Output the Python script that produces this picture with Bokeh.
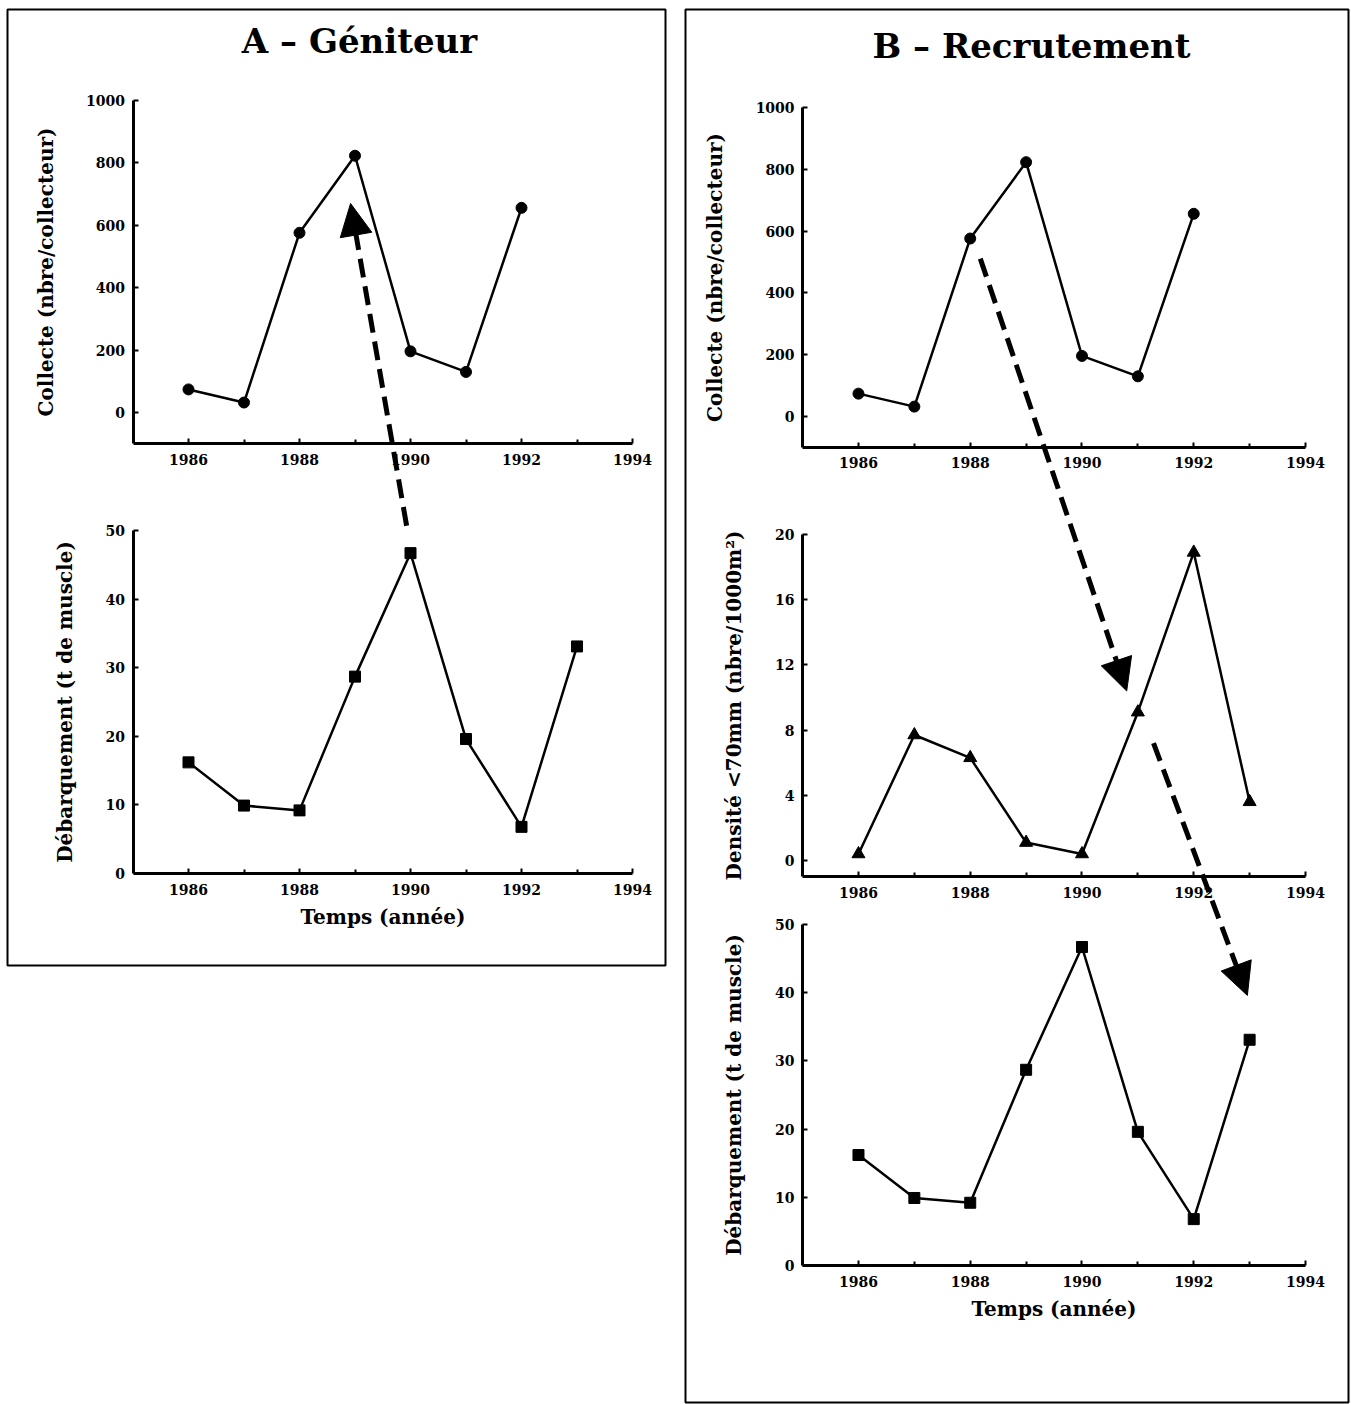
from bokeh.plotting import figure
from bokeh.models import (Range1d, LinearAxis, FixedTicker, Label, Arrow, NormalHead, Spacer)
from bokeh.layouts import row, column
from bokeh.embed import file_html
from bokeh.resources import INLINE

# ---------------- data ----------------
years_collecte = [1986, 1987, 1988, 1989, 1990, 1991, 1992]
collecte = [74, 32, 576, 823, 196, 130, 656]          # nbre/collecteur

years_debarq = [1986, 1987, 1988, 1989, 1990, 1991, 1992, 1993]
debarquement = [16.2, 9.9, 9.2, 28.7, 46.7, 19.6, 6.8, 33.1]   # t de muscle

years_densite = [1986, 1987, 1988, 1989, 1990, 1991, 1992, 1993]
densite = [0.4, 7.7, 6.3, 1.1, 0.4, 9.1, 18.9, 3.6]   # nbre/1000m2

x_ticks = [1986, 1988, 1990, 1992, 1994]
x_minor = [1987, 1989, 1991, 1993]
collecte_ticks = [0, 200, 400, 600, 800, 1000]
debarq_ticks = [0, 10, 20, 30, 40, 50]
densite_ticks = [0, 4, 8, 12, 16, 20]

title_a = "A \u2013 G\u00e9niteur"
title_b = "B \u2013 Recrutement"
label_collecte = "Collecte (nbre/collecteur)"
label_debarq = "D\u00e9barquement (t de muscle)"
label_densite = "Densit\u00e9 <70mm (nbre/1000m\u00b2)"
label_temps = "Temps (ann\u00e9e)"

# ---------------- styling ----------------
TICK_FONT = "DejaVu Serif"
LAB_FONT = "DejaVu Serif"
MB = 2  # min border


def make_panel(ox, oy, W, H):
    p = figure(width=W + 2 * MB, height=H + 2 * MB, x_axis_type=None, y_axis_type=None,
               x_range=Range1d(0, W), y_range=Range1d(H, 0),
               toolbar_location=None, output_backend="svg", min_border=MB)
    p.grid.visible = False
    p.outline_line_color = "black"
    p.outline_line_width = 2
    p.background_fill_color = "white"
    p.border_fill_color = "white"
    p._ox, p._oy, p._W, p._H = ox, oy, W, H
    return p


def add_subplot(p, name, xpix, ypix, xb, yb, yticks, ylabel, xlabel=None):
    """xpix: (page px of 1985, page px of 1994); ypix: ((v0, py0), (v1, py1))"""
    ox, oy, W, H = p._ox, p._oy, p._W, p._H
    a = 9.0 / (xpix[1] - xpix[0])
    xs = 1985 - (xpix[0] - ox) * a
    p.extra_x_ranges[name] = Range1d(xs, xs + W * a)
    (v0, py0), (v1, py1) = ypix
    k = (v1 - v0) / (py1 - py0)
    vtop = v0 + (oy - py0) * k
    vbot = v0 + (oy + H - py0) * k
    p.extra_y_ranges[name] = Range1d(vbot, vtop)

    xa = LinearAxis(x_range_name=name, y_range_name=name, fixed_location=yb[0],
                    bounds=xb, ticker=FixedTicker(ticks=x_ticks, minor_ticks=x_minor))
    ya = LinearAxis(x_range_name=name, y_range_name=name, fixed_location=xb[0],
                    bounds=yb, ticker=FixedTicker(ticks=yticks))
    for ax in (xa, ya):
        ax.axis_line_width = 3
        ax.major_tick_in = 5
        ax.major_tick_out = 0
        ax.minor_tick_in = 4
        ax.minor_tick_out = 0
        ax.major_tick_line_width = 2
        ax.minor_tick_line_width = 2
        ax.major_label_text_font = TICK_FONT
        ax.major_label_text_font_style = "bold"
        ax.major_label_text_font_size = "14px"
        ax.major_label_text_color = "black"
        ax.axis_label_text_font = LAB_FONT
        ax.axis_label_text_font_style = "bold"
        ax.axis_label_text_font_size = "20px"
        ax.axis_label_text_color = "black"
    ya.minor_tick_line_color = None
    xa.major_label_standoff = 10
    ya.major_label_standoff = 8
    ya.axis_label = ylabel
    ya.axis_label_standoff = 26
    if xlabel:
        xa.axis_label = xlabel
        xa.axis_label_standoff = 7
    p.add_layout(xa, "below")
    p.add_layout(ya, "left")
    return name


def to_panel(p, name, x, y):
    xr = p.extra_x_ranges[name]
    yr = p.extra_y_ranges[name]
    px = (x - xr.start) / (xr.end - xr.start) * p._W
    py = p._H - (y - yr.start) / (yr.end - yr.start) * p._H
    return px, py


def add_arrow(p, n0, x0, y0, n1, x1, y1):
    sx, sy = to_panel(p, n0, x0, y0)
    ex, ey = to_panel(p, n1, x1, y1)
    head = NormalHead(size=32, fill_color="black", line_color="black", line_width=1)
    p.add_layout(Arrow(end=head, x_start=sx, y_start=sy, x_end=ex, y_end=ey,
                       line_width=5, line_dash="19 9", line_color="black"))


def series(p, name, xs, ys, marker, size):
    p.line(xs, ys, x_range_name=name, y_range_name=name, line_color="black", line_width=2.5)
    p.scatter(xs, ys, x_range_name=name, y_range_name=name, marker=marker, size=size,
              fill_color="black", line_color="black")


# ---------------- panel A ----------------
pA = make_panel(7, 9, 658, 956)
a1 = add_subplot(pA, "a1", (132.5, 632), ((0, 412), (1000, 100)), (1985, 1994), (-100, 1000),
                 collecte_ticks, label_collecte)
a2 = add_subplot(pA, "a2", (132.5, 632), ((0, 873), (50, 530)), (1985, 1994), (0, 50),
                 debarq_ticks, label_debarq, label_temps)
series(pA, a1, years_collecte, collecte, "circle", 11)
series(pA, a2, years_debarq, debarquement, "square", 11)
pA.add_layout(Label(x=352, y=31, text=title_a, text_align="center", text_baseline="middle",
                    text_font="DejaVu Serif", text_font_style="bold", text_font_size="34px",
                    text_color="black"))
add_arrow(pA, a2, 1989.93, 50.7, a1, 1988.92, 670)

# ---------------- panel B ----------------
pB = make_panel(685, 9, 663, 1393)
b1 = add_subplot(pB, "b1", (802.1, 1305), ((0, 416), (1000, 107)), (1985, 1994), (-100, 1000),
                 collecte_ticks, label_collecte)
b2 = add_subplot(pB, "b2", (802.1, 1305), ((0, 860), (20, 534)), (1985, 1994), (-1, 20),
                 densite_ticks, label_densite)
b3 = add_subplot(pB, "b3", (802.1, 1305), ((0, 1265), (50, 924)), (1985, 1994), (0, 50),
                 debarq_ticks, label_debarq, label_temps)
series(pB, b1, years_collecte, collecte, "circle", 11)
series(pB, b2, years_densite, densite, "triangle", 13)
series(pB, b3, years_debarq, debarquement, "square", 11)
pB.add_layout(Label(x=346, y=36, text=title_b, text_align="center", text_baseline="middle",
                    text_font="DejaVu Serif", text_font_style="bold", text_font_size="34px",
                    text_color="black"))
add_arrow(pB, b1, 1988.18, 511, b2, 1990.80, 10.4)
add_arrow(pB, b2, 1991.28, 7.2, b3, 1992.96, 39.6)

layout = row(Spacer(width=7 - MB),
             column(Spacer(height=9 - MB), pA),
             Spacer(width=685 - 665 - 2 * MB),
             column(Spacer(height=9 - MB), pB))

open("out.html", "w").write(file_html(layout, INLINE))
